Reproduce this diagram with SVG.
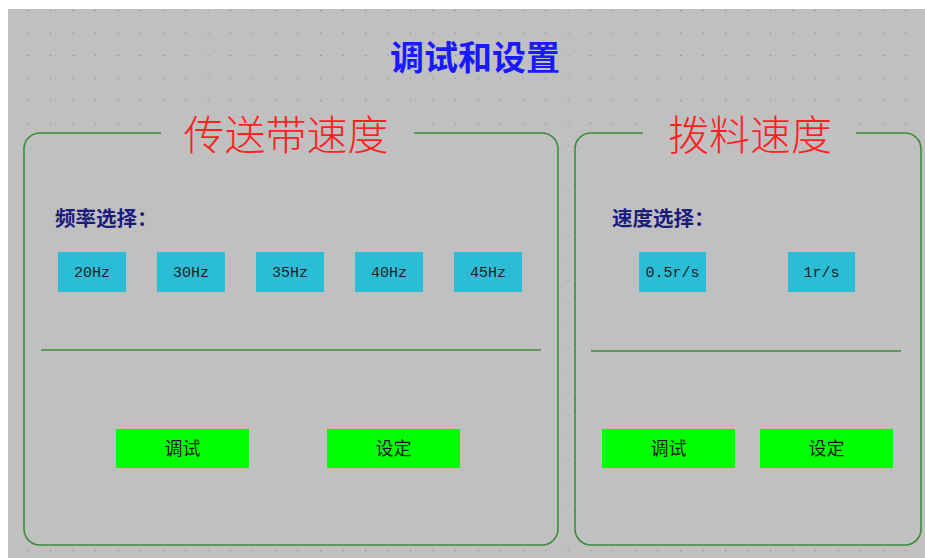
<svg xmlns="http://www.w3.org/2000/svg" width="925" height="558" viewBox="0 0 925 558">
<defs>
<pattern id="dots" x="5" y="10" width="22.5" height="22.5" patternUnits="userSpaceOnUse">
<rect x="0" y="0" width="1.2" height="1.2" fill="#8c8c8c"/>
</pattern>
<style>
.bg{fill:#c0c0c0}
.frame{fill:none;stroke:#3c8c3c;stroke-width:1.6}
.panel{fill:#c0c0c0}
.div{stroke:#3c8c3c;stroke-width:1.4}
.sec{font-family:"Noto Sans CJK SC",sans-serif;font-size:41px;font-weight:300;fill:#ff1f1f;text-anchor:middle}
.title{font-family:"Noto Sans CJK SC",sans-serif;font-size:34px;font-weight:700;fill:#1a1aff;text-anchor:middle}
.lbl{font-family:"Noto Sans CJK SC",sans-serif;font-size:20.5px;font-weight:700;fill:#1c1c7c}
.cy{fill:#2bbcd6}
.cyt{font-family:"Liberation Mono",monospace;font-size:15px;fill:#1e1e1e;text-anchor:middle}
.gr{fill:#00ff00}
.grt{font-family:"Noto Sans CJK SC",sans-serif;font-size:18px;font-weight:400;fill:#1a1a1a;text-anchor:middle}
</style>
</defs>
<rect x="0" y="0" width="925" height="558" fill="#ffffff"/>
<rect class="bg" x="8" y="9" width="917" height="549"/>
<rect x="8" y="9" width="917" height="549" fill="url(#dots)"/>
<g id="title">
<text class="title" x="475" y="70">调试和设置</text>
</g>
<g id="panel-left">
<rect class="panel" x="24" y="133" width="534" height="412" rx="16"/>
<rect class="panel" x="161" y="112" width="253" height="22"/>
<path class="frame" d="M161,133 H40 A16,16 0 0 0 24,149 V529 A16,16 0 0 0 40,545 H542 A16,16 0 0 0 558,529 V149 A16,16 0 0 0 542,133 H414"/>
<text class="sec" x="286" y="150">传送带速度</text>
<line class="div" x1="41" y1="350" x2="541" y2="350"/>
<text class="lbl" x="55" y="226">频率选择：</text>
</g>
<g id="btn-20hz"><rect class="cy" x="58" y="252" width="68" height="40"/><text class="cyt" x="92" y="277">20Hz</text></g>
<g id="btn-30hz"><rect class="cy" x="157" y="252" width="68" height="40"/><text class="cyt" x="191" y="277">30Hz</text></g>
<g id="btn-35hz"><rect class="cy" x="256" y="252" width="68" height="40"/><text class="cyt" x="290" y="277">35Hz</text></g>
<g id="btn-40hz"><rect class="cy" x="355" y="252" width="68" height="40"/><text class="cyt" x="389" y="277">40Hz</text></g>
<g id="btn-45hz"><rect class="cy" x="454" y="252" width="68" height="40"/><text class="cyt" x="488" y="277">45Hz</text></g>
<g id="btn-left-debug"><rect class="gr" x="116" y="429" width="133" height="39"/><text class="grt" x="182.5" y="455">调试</text></g>
<g id="btn-left-set"><rect class="gr" x="327" y="429" width="133" height="39"/><text class="grt" x="393.5" y="455">设定</text></g>
<g id="panel-right">
<rect class="panel" x="575" y="133" width="346" height="412" rx="16"/>
<rect class="panel" x="643" y="112" width="213" height="22"/>
<path class="frame" d="M643,133 H591 A16,16 0 0 0 575,149 V529 A16,16 0 0 0 591,545 H905 A16,16 0 0 0 921,529 V149 A16,16 0 0 0 905,133 H856"/>
<text class="sec" x="750" y="150">拨料速度</text>
<line class="div" x1="591" y1="351" x2="901" y2="351"/>
<text class="lbl" x="612" y="226">速度选择：</text>
</g>
<g id="btn-05rs"><rect class="cy" x="639" y="252" width="67" height="40"/><text class="cyt" x="672.5" y="277">0.5r/s</text></g>
<g id="btn-1rs"><rect class="cy" x="788" y="252" width="67" height="40"/><text class="cyt" x="821.5" y="277">1r/s</text></g>
<g id="btn-right-debug"><rect class="gr" x="602" y="429" width="133" height="39"/><text class="grt" x="668.5" y="455">调试</text></g>
<g id="btn-right-set"><rect class="gr" x="760" y="429" width="133" height="39"/><text class="grt" x="826.5" y="455">设定</text></g>
<g id="connectors"/>
</svg>
